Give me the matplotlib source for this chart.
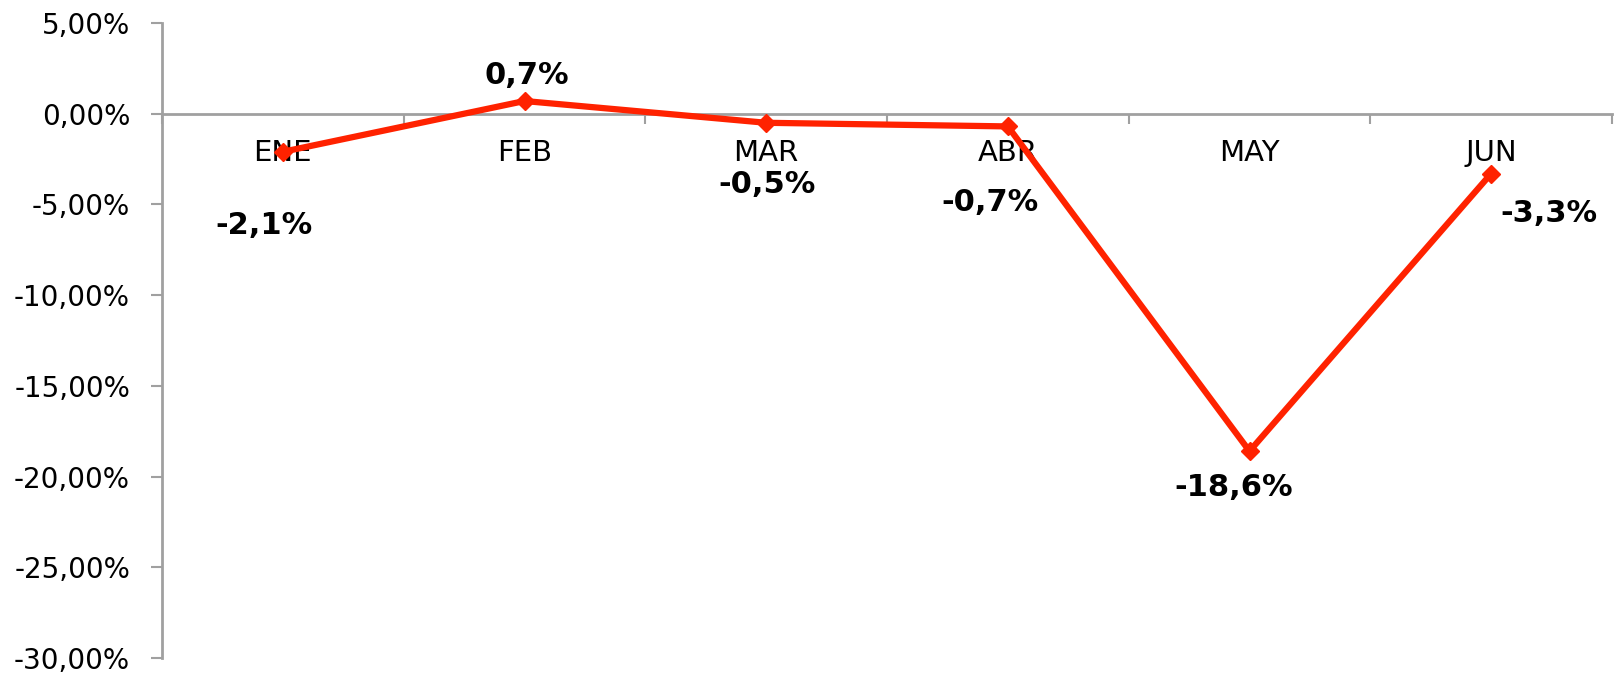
import matplotlib.pyplot as plt
from matplotlib.ticker import FuncFormatter

months = ['ENE', 'FEB', 'MAR', 'ABR', 'MAY', 'JUN']
values = [-2.1, 0.7, -0.5, -0.7, -18.6, -3.3]
labels = ['-2,1%', '0,7%', '-0,5%', '-0,7%', '-18,6%', '-3,3%']
# label offsets in pixels from each point (dx, dy), y up
offsets = [(-19, -74), (2, 26), (1, -62), (-18, -76), (-16, -36), (58, -40)]

GRAY = '#A0A0A0'
RED = '#FF2200'


def pct(v, pos):
    return ('%.2f%%' % v).replace('.', ',')


def main():
    fig = plt.figure(figsize=(16.14, 6.79), dpi=100)
    ax = fig.add_axes([162 / 1614, 1 - 658 / 679, 1450 / 1614, 635 / 679])

    x = list(range(len(months)))
    ax.plot(x, values, color=RED, linewidth=4.5, marker='D', markersize=9,
            markeredgecolor=RED, zorder=3)

    for xi, v, lab, (dx, dy) in zip(x, values, labels, offsets):
        ax.annotate(lab, xy=(xi, v), xytext=(dx * 0.72, dy * 0.72),
                    textcoords='offset points', ha='center', va='center',
                    fontsize=22, fontweight='bold', color='black', zorder=4)

    ax.set_ylim(-30, 5)
    ax.set_xlim(-0.5, 5.5)
    ax.set_yticks(range(-30, 6, 5))
    ax.yaxis.set_major_formatter(FuncFormatter(pct))

    for side in ['top', 'right']:
        ax.spines[side].set_visible(False)
    ax.spines['left'].set_color(GRAY)
    ax.spines['left'].set_linewidth(2)
    ax.spines['bottom'].set_position(('data', 0))
    ax.spines['bottom'].set_color(GRAY)
    ax.spines['bottom'].set_linewidth(2)

    ax.set_xticks(x)
    ax.set_xticklabels(months)
    ax.set_xticks([i - 0.5 for i in range(len(months) + 1)], minor=True)
    ax.tick_params(axis='x', which='major', length=0, pad=18, labelsize=21)
    ax.tick_params(axis='x', which='minor', length=7, width=1.5, color=GRAY,
                   direction='out')
    ax.tick_params(axis='y', length=8, width=1.5, color=GRAY, pad=15,
                   labelsize=20)

    fig.savefig('out.png', dpi=100)


if __name__ == '__main__':
    main()
